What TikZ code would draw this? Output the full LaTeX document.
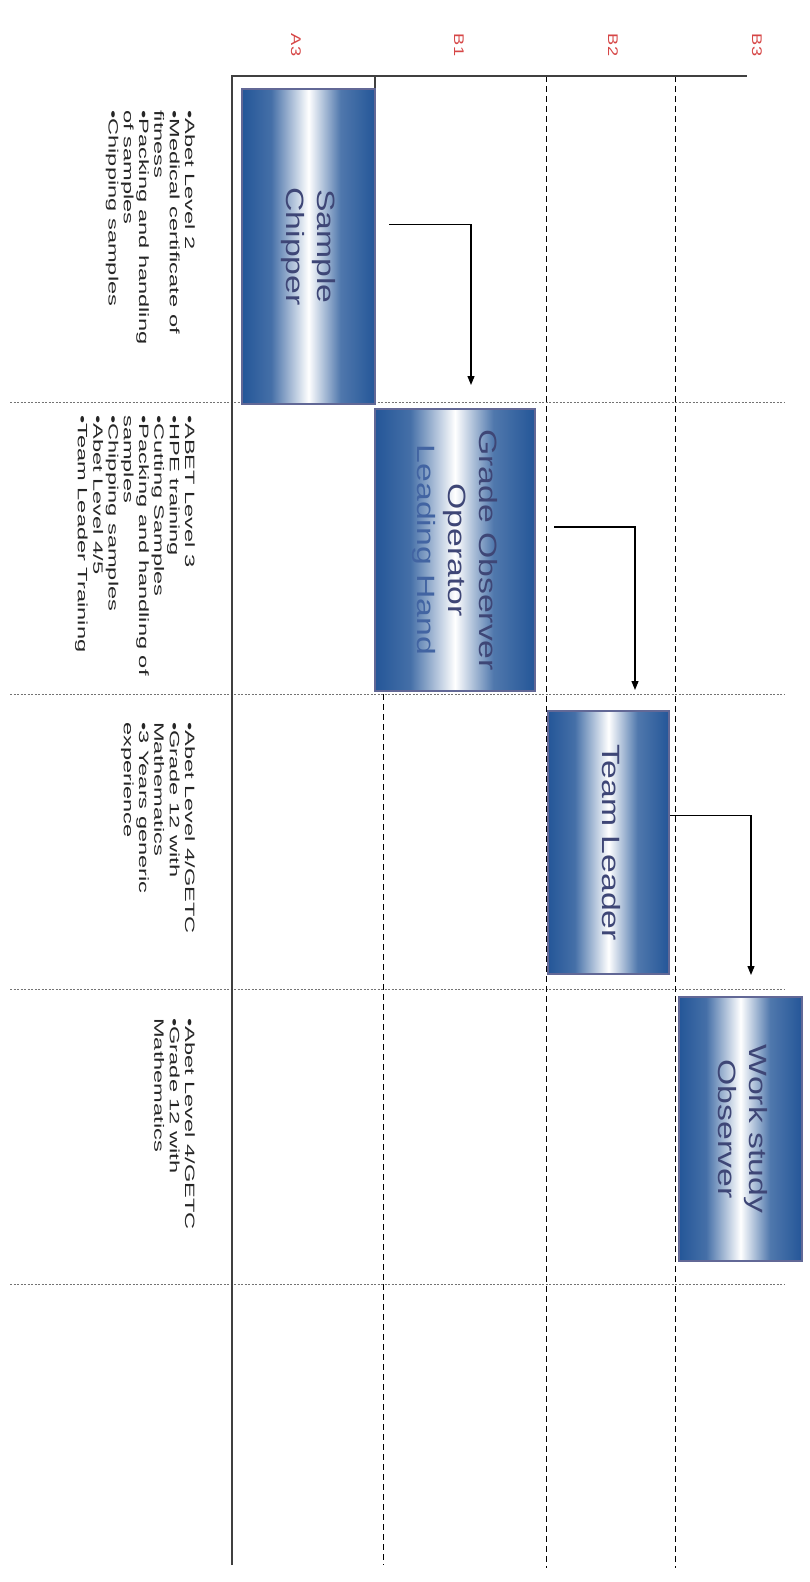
\documentclass[tikz,border=0pt]{standalone}
\usepackage{fontspec}
\setmainfont{Liberation Sans}
\usepackage{graphicx}
\usepackage{xcolor}
\usetikzlibrary{arrows.meta,calc}
\definecolor{roleblue}{RGB}{36,86,152}
\definecolor{roleedge}{RGB}{98,104,150}
\definecolor{roleink}{RGB}{62,70,118}
\definecolor{rolefaint}{RGB}{66,100,162}
\definecolor{lanered}{RGB}{214,70,70}
\pgfdeclarehorizontalshading{rolebar}{100bp}{color(0bp)=(roleblue); color(25bp)=(roleblue); color(36bp)=(roleblue!85!white); color(50bp)=(white); color(62bp)=(roleblue!80!white); color(75bp)=(roleblue); color(100bp)=(roleblue)}
\newcommand{\roletext}[1]{\rotatebox{-90}{\scalebox{1.35}[1]{\begin{tabular}{@{}c@{}}#1\end{tabular}}}}
\newcommand{\skilltext}[1]{\rotatebox{-90}{\scalebox{1.75}[1]{\begin{tabular}{@{}l@{}}#1\end{tabular}}}}
\newcommand{\lanetext}[1]{\rotatebox{-90}{\scalebox{1.3}[1]{#1}}}
\tikzset{
  role/.style={draw=roleedge, line width=2pt, shading=rolebar, text=roleink, inner sep=0pt, font=\fontsize{25}{31}\selectfont},
  skill/.style={anchor=north east, inner sep=0pt, text=black!85, font=\fontsize{13.5}{15.3}\selectfont},
  lanelabel/.style={text=lanered, inner sep=0pt, font=\fontsize{14}{16}\selectfont},
  frame/.style={line width=1.3pt, black!75},
  lane/.style={dash pattern=on 6pt off 4pt, line width=1pt},
  rowline/.style={dash pattern=on 2pt off 1.5pt, line width=0.9pt, black!55},
  arrow/.style={-{Triangle[length=9pt,width=7pt]}, line width=1.2pt}
}

\begin{document}
\begin{tikzpicture}[x=1pt,y=-1pt]
  \useasboundingbox (0,0) rectangle (810,1582);
  % grid
  \foreach \y in {402,694,989,1284}
    \draw[rowline] (10,\y) -- (785,\y);
  \draw[lane] (383,694) -- (383,1565);
  \draw[lane] (546,76) -- (546,1568);
  \draw[lane] (675,76) -- (675,1568);
  \draw[frame] (232,1565) -- (232,76) -- (747,76);
  \draw[frame] (375,76) -- (375,402);

  % lane headers
  \node[lanelabel] (a3) at (296,45) {\lanetext{A3}};
  \node[lanelabel] (b1) at (459,45) {\lanetext{B1}};
  \node[lanelabel] (b2) at (613,45) {\lanetext{B2}};
  \node[lanelabel] (b3) at (757,45) {\lanetext{B3}};

  % roles
  \node[role, minimum width=133pt, minimum height=315pt] (chipper) at (308.5,246.5) {\roletext{Sample\\Chipper}};
  \node[role, minimum width=160pt, minimum height=282pt] (grade) at (455,550) {\roletext{Grade Observer\\Operator\\\textcolor{rolefaint}{Leading Hand}}};
  \node[role, minimum width=121pt, minimum height=263pt] (leader) at (608.5,842.5) {\roletext{Team Leader}};
  \node[role, minimum width=123pt, minimum height=264pt] (work) at (740.5,1129) {\roletext{Work study\\Observer}};

  % requirements
  \node[skill] (req1) at (196,110) {\skilltext{•Abet Level 2\\•Medical certificate of\\fitness\\•Packing and handling\\of samples\\•Chipping samples}};
  \node[skill] (req2) at (196,415) {\skilltext{•ABET Level 3\\•HPE training\\•Cutting Samples\\•Packing and handling of\\samples\\•Chipping samples\\•Abet Level 4/5\\•Team Leader Training}};
  \node[skill] (req3) at (196,722) {\skilltext{•Abet Level 4/GETC\\•Grade 12 with\\Mathematics\\•3 Years generic\\experience}};
  \node[skill] (req4) at (196,1018) {\skilltext{•Abet Level 4/GETC\\•Grade 12 with\\Mathematics}};

  % progression
  \draw[arrow] ($(chipper.east)+(13,-22)$) -| ($(grade.north west)+(97,-23)$);
  \draw[arrow] ($(grade.east)+(18,-23)$) -| ($(leader.north west)+(88,-20)$);
  \draw[arrow] ($(leader.east)+(0,-27)$) -| ($(work.north west)+(73,-21)$);
\end{tikzpicture}
\end{document}
